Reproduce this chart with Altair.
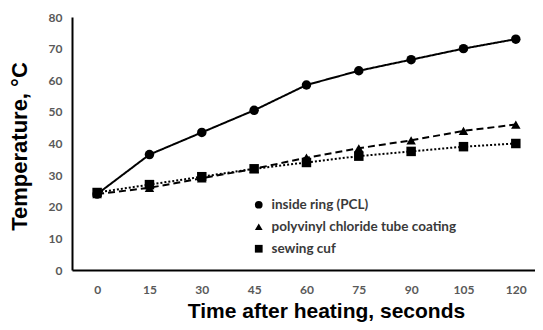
import altair as alt
import pandas as pd

times = [0, 15, 30, 45, 60, 75, 90, 105, 120]
pcl = [24, 36.5, 43.5, 50.5, 58.5, 63, 66.5, 70, 73]
pvc = [24, 26, 29, 32, 35.5, 38.5, 41, 44, 46]
cuf = [24.5, 27, 29.5, 32, 34, 36, 37.5, 39, 40]
series = ["inside ring (PCL)", "polyvinyl chloride tube coating", "sewing cuf"]

rows = []
for name, vals in zip(series, [pcl, pvc, cuf]):
    for t, v in zip(times, vals):
        rows.append({"t": t, "temp": v, "series": name})
df = pd.DataFrame(rows)

x = alt.X("t:Q", scale=alt.Scale(domain=[-7.2, 125.5], nice=False, zero=False),
          axis=alt.Axis(values=times, title="Time after heating, seconds", grid=False,
                        ticks=False, labelPadding=14, labelFont="Lato", labelFontWeight="bold",
                        labelColor="#595959", labelFontSize=12, titleFont="Liberation Sans",
                        titleFontSize=21, titleFontWeight="bold", titleColor="#000000",
                        titleX=254, titleY=47, titleBaseline="alphabetic", titleAlign="center",
                        domainColor="#000000", domainWidth=2))
y = alt.Y("temp:Q", scale=alt.Scale(domain=[0, 80], nice=False),
          axis=alt.Axis(values=list(range(0, 81, 10)), title="Temperature, °C", grid=False,
                        ticks=False, labelPadding=10, labelFont="Lato", labelFontWeight="bold",
                        labelColor="#595959", labelFontSize=12, titleFont="Liberation Sans",
                        titleFontSize=22, titleFontWeight="bold", titleColor="#000000",
                        titleX=-46, titleY=129, titleAngle=-90, titleBaseline="alphabetic",
                        titleAlign="center", domainColor="#000000", domainWidth=2))

legend = alt.Legend(title=None, orient="none", legendX=180, legendY=181,
                    labelFont="Lato", labelFontWeight="bold", labelColor="#3a3a3a",
                    labelFontSize=13.5, labelLimit=400, labelOffset=6, rowPadding=7,
                    symbolFillColor="#000000", symbolStrokeColor="#000000",
                    symbolSize=60, symbolStrokeWidth=1.5)

shape_scale = alt.Scale(domain=series, range=["circle", "triangle-up", "square"])
dash_scale = alt.Scale(domain=series, range=[[1, 0], [7, 4], [2, 2]])

base = alt.Chart(df).encode(x=x, y=y)
lines = base.mark_line(color="#000000", strokeWidth=2).encode(
    strokeDash=alt.StrokeDash("series:N", scale=dash_scale, legend=legend)
)
points = base.mark_point(filled=True, color="#000000", opacity=1, size=90).encode(
    shape=alt.Shape("series:N", scale=shape_scale, legend=legend)
)

chart = (lines + points).properties(
    width=463, height=253,
    autosize=alt.AutoSizeParams(type="none"),
    padding={"left": 64, "top": 9, "right": 0, "bottom": 52},
).configure_view(stroke=None)

chart.save("out.html", embed_options={"renderer": "svg", "actions": False})
